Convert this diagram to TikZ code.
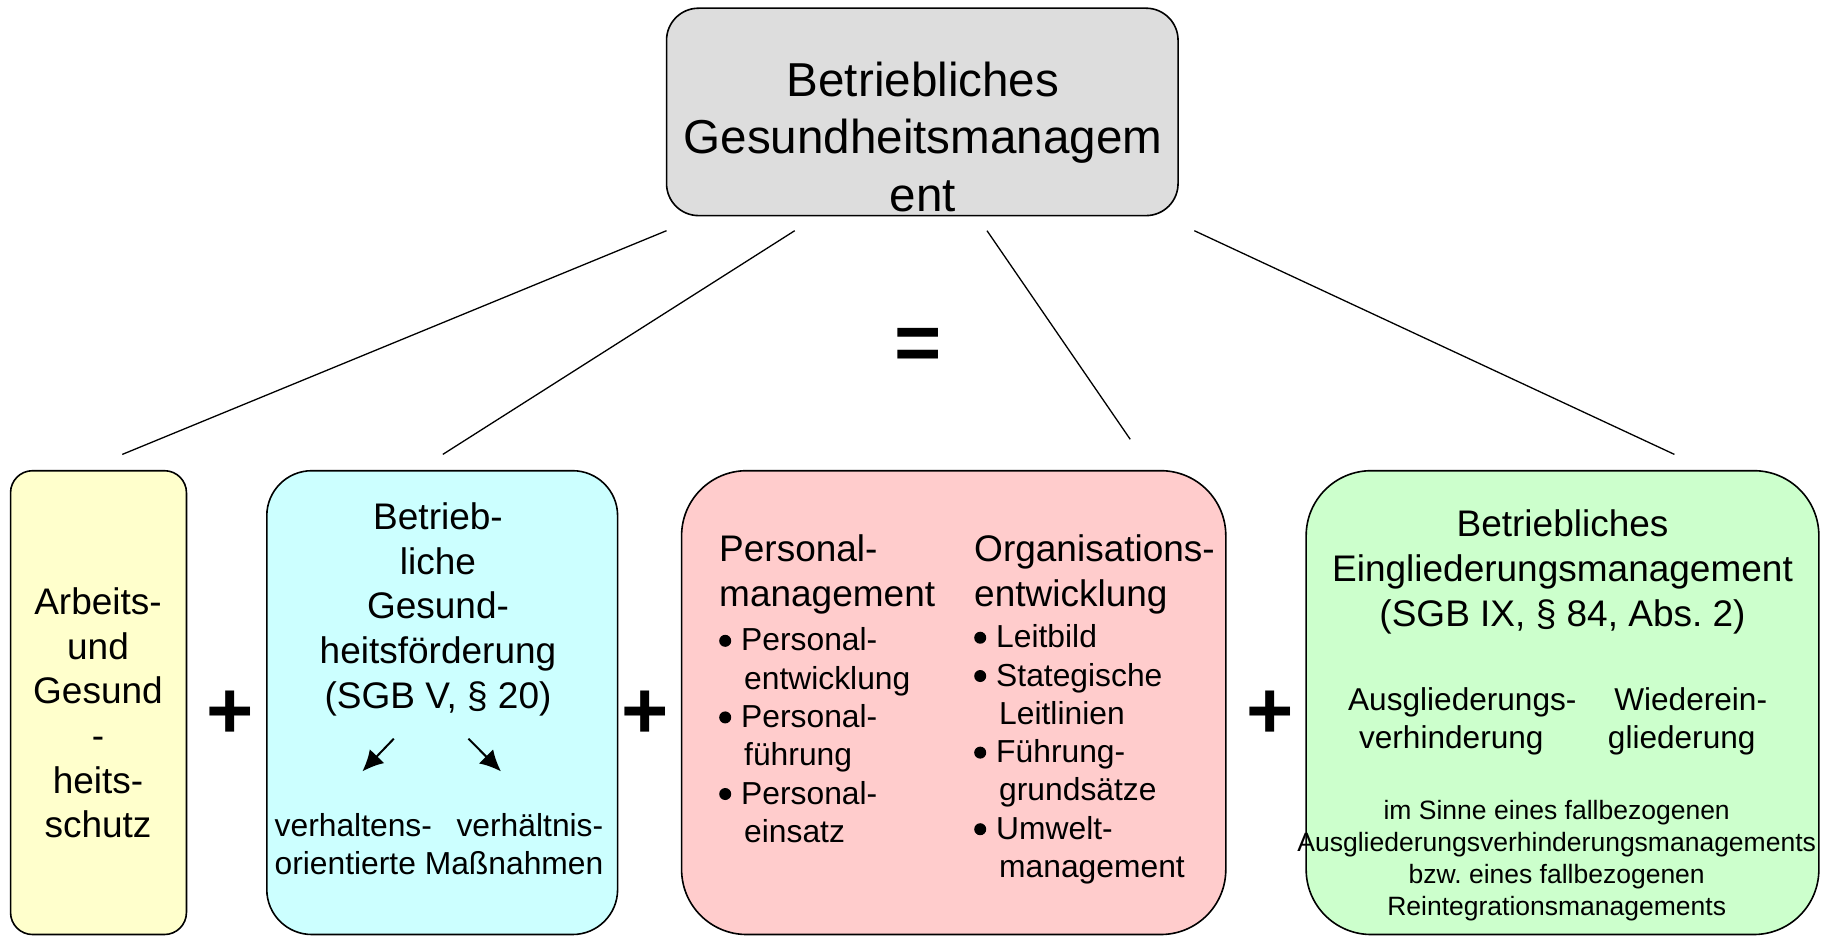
\documentclass[tikz,border=0pt]{standalone}
\usepackage{fontspec}
\setmainfont{Liberation Sans}
\usetikzlibrary{arrows.meta}
\frenchspacing
\definecolor{topgray}{HTML}{DDDDDD}
\definecolor{yelbox}{HTML}{FFFFCC}
\definecolor{cyanbox}{HTML}{CCFFFF}
\definecolor{redbox}{HTML}{FFCCCC}
\definecolor{greenbox}{HTML}{CCFFCC}
\newcommand{\bigbul}{\makebox[22pt][l]{\tikz[baseline=0pt]{\fill[black] (6pt,10pt) circle (6pt);}}}
\newcommand{\contind}{\hspace*{25pt}}
\tikzset{
  box/.style={draw=black, line width=1.6pt, inner sep=0pt, rectangle, minimum height=463.8pt},
  conn/.style={draw=black, line width=1.3pt},
  txt/.style={inner sep=0pt, align=center},
  sign/.style={inner sep=0pt, font=\fontsize{81}{81}\selectfont\bfseries},
  arr/.style={line width=2pt, -{Latex[length=21pt,width=20pt]}},
  fbig/.style={font=\fontsize{47.6}{57.8}\selectfont},
  fmid/.style={font=\fontsize{37}{44.6}\selectfont},
  fsmall/.style={font=\fontsize{31.8}{38.3}\selectfont},
  fgsmall/.style={font=\fontsize{31.6}{37.3}\selectfont},
  ftiny/.style={font=\fontsize{26.5}{32.2}\selectfont},
}
\begin{document}
\begin{tikzpicture}[x=1pt,y=-1pt]
\useasboundingbox (0,0) rectangle (1827,936);

% top box
\node[box, fill=topgray, rounded corners=32pt, minimum width=511.5pt, minimum height=207.4pt] (top) at (922.3,111.9) {};
\node[txt, fbig] (toptext) at (923,136.8) {Betriebliches\\Gesundheitsmanagem\\ent};

% connectors
\coordinate (c1a) at (666.5,230.7); \coordinate (c1b) at (122.3,454.4);
\coordinate (c2a) at (794.7,230.7); \coordinate (c2b) at (442.8,454.4);
\coordinate (c3a) at (987,230.7);   \coordinate (c3b) at (1130.2,439.3);
\coordinate (c4a) at (1194.3,230.7);\coordinate (c4b) at (1674.4,454.4);
\draw[conn] (c1a) -- (c1b);
\draw[conn] (c2a) -- (c2b);
\draw[conn] (c3a) -- (c3b);
\draw[conn] (c4a) -- (c4b);

\node[sign] (eq) at (918.5,349) {=};

% yellow
\node[box, fill=yelbox, rounded corners=22pt, minimum width=175.9pt] (ags) at (98.5,702.6) {};
\node[txt, fmid] (agstext) at (98,713) {Arbeits-\\und\\Gesund\\-\\heits-\\schutz};

\node[sign] (p1) at (230.5,714.5) {+};

% blue
\node[box, fill=cyanbox, rounded corners=45pt, minimum width=350.8pt] (bgf) at (442.2,702.6) {};
\node[txt, fmid] (bgftext) at (438,609.4) {Betrieb-\\liche\\Gesund-\\heitsförderung\\(SGB V, § 20)};
\coordinate (a1s) at (393.8,738.7); \coordinate (a1e) at (362.4,771.4);
\coordinate (a2s) at (468.4,738.7); \coordinate (a2e) at (501,771.4);
\draw[arr] (a1s) -- (a1e);
\draw[arr] (a2s) -- (a2e);
\node[txt, fsmall] (bgfm) at (439,844.2) {\makebox[328.6pt]{verhaltens-\hfill verhältnis-}\\orientierte Maßnahmen};

\node[sign] (p2) at (645.5,715) {+};

% red
\node[box, fill=redbox, rounded corners=65pt, minimum width=544.2pt] (pm) at (953.7,702.6) {};
\node[txt, align=left, fmid, anchor=west] (pmh1) at (719,574.4) {Personal-\\management};
\node[txt, align=left, fsmall, anchor=west] (pml1) at (719,735.2) {\bigbul Personal-\\\contind entwicklung\\\bigbul Personal-\\\contind führung\\\bigbul Personal-\\\contind einsatz};
\node[txt, align=left, fmid, anchor=west] (pmh2) at (974,574.4) {Organisations-\\entwicklung};
\node[txt, align=left, fsmall, anchor=west] (pml2) at (974,754.4) {\bigbul Leitbild\\\bigbul Stategische\\\contind Leitlinien\\\bigbul Führung-\\\contind grundsätze\\\bigbul Umwelt-\\\contind management};

\node[sign] (p3) at (1270,715) {+};

% green
\node[box, fill=greenbox, rounded corners=65pt, minimum width=512.7pt] (bem) at (1562.5,702.6) {};
\node[txt, fmid] (bemh) at (1562.5,572) {Betriebliches\\Eingliederungsmanagement\\(SGB IX, § 84, Abs. 2)};
\node[txt, fgsmall] (bem1) at (1462.3,721.3) {Ausgliederungs-\\\hspace*{-22pt}verhinderung};
\node[txt, fgsmall] (bem2) at (1690.7,721.3) {Wiederein-\\\hspace*{-18pt}gliederung};
\node[txt, ftiny] (bem3) at (1556.7,860.5) {im Sinne eines fallbezogenen\\Ausgliederungsverhinderungsmanagements\\bzw. eines fallbezogenen\\Reintegrationsmanagements};
\end{tikzpicture}
\end{document}
